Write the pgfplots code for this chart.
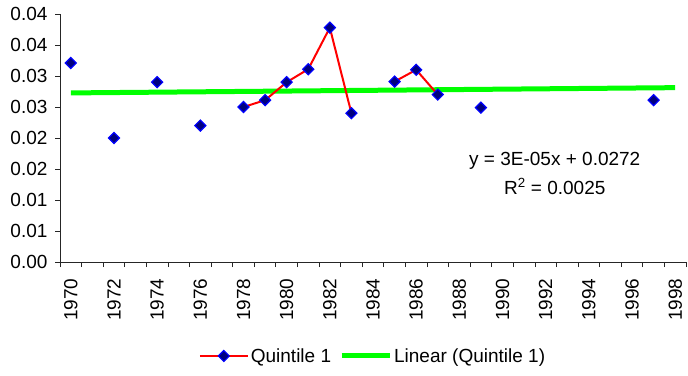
\documentclass[border=0pt]{standalone}
\usepackage{fontspec}
\setmainfont{Liberation Sans}
\usepackage{pgfplots}
\pgfplotsset{compat=1.18}
\definecolor{navyb}{RGB}{0,0,128}
\definecolor{trendgreen}{RGB}{0,255,0}
\begin{document}
\begin{tikzpicture}
\begin{axis}[
  name=ax,
  scale only axis, width=626pt, height=248pt,
  xmin=1969.5, xmax=1998.5, ymin=0, ymax=0.04,
  axis lines=left, axis line style={-, black!85, line width=0.8pt},
  tick align=outside, major tick length=5pt,
  tick style={black!85, line width=0.8pt},
  tick label style={font=\fontsize{19}{23}\selectfont},
  scaled y ticks=false, scaled x ticks=false,
  ytick={0,0.005,0.01,0.015,0.02,0.025,0.03,0.035,0.04},
  yticklabels={0.00,0.01,0.01,0.02,0.02,0.03,0.03,0.04,0.04},
  yticklabel style={xshift=-4pt},
  xtick={1969.5,1970.5,...,1998.5}, xticklabels={},
  extra x ticks={1970,1972,...,1998},
  extra x tick labels={1970,1972,1974,1976,1978,1980,1982,1984,1986,1988,1990,1992,1994,1996,1998},
  extra x tick style={major tick length=0pt, tick style={draw=none},
    xticklabel style={rotate=90, anchor=east, xshift=-13pt}},
  unbounded coords=jump,
  clip=false,
  legend style={at={(0.5,-0.379)}, anchor=center, draw=none, fill=none,
    legend columns=2, font=\fontsize{19}{23}\selectfont,
    /tikz/every even column/.append style={column sep=6pt},
    inner sep=0pt},
  legend image code/.code={\draw[mark repeat=2,mark phase=2,#1] plot coordinates {(0pt,0pt)(24pt,0pt)(48pt,0pt)};},
]
\addplot[trendgreen, line width=5pt, forget plot] coordinates {(1970,0.02727)(1998,0.02812)};
\addplot[red, line width=2pt, mark=square*, mark size=3.9pt,
  mark options={rotate=45, fill=navyb, draw=blue, line width=1.2pt, solid}]
coordinates {
(1970,0.0321)(1971,nan)(1972,0.0200)(1973,nan)(1974,0.0290)(1975,nan)
(1976,0.0220)(1977,nan)(1978,0.0250)(1979,0.0261)(1980,0.0290)(1981,0.0311)
(1982,0.0378)(1983,0.0240)(1984,nan)(1985,0.0291)(1986,0.0310)(1987,0.0270)
(1988,nan)(1989,0.0249)(1990,nan)(1997,0.0261)
};
\addlegendentry{Quintile 1}
\addlegendimage{trendgreen, line width=5pt}
\addlegendentry{Linear (Quintile 1)}
\node[anchor=base, font=\fontsize{19}{23}\selectfont] at (axis cs:1992.42,0.0155) {y = 3E-05x + 0.0272};
\node[anchor=base, font=\fontsize{19}{23}\selectfont] at (axis cs:1992.42,0.01093) {R\textsuperscript{2} = 0.0025};
\end{axis}
\pgfresetboundingbox
\path ([shift={(-60pt,-113pt)}]ax.south west) rectangle ([shift={(2pt,14pt)}]ax.north east);
\end{tikzpicture}
\end{document}
